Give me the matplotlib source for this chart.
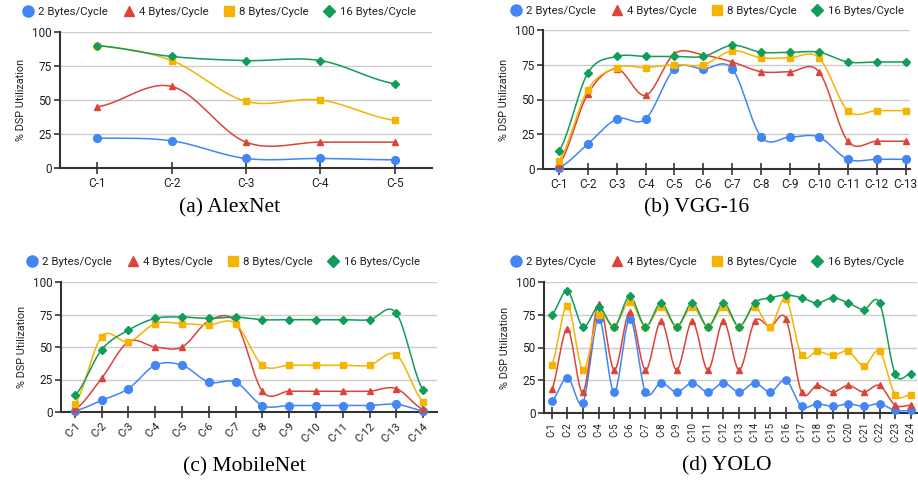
import numpy as np
import matplotlib
matplotlib.use("Agg")
import matplotlib.pyplot as plt
from matplotlib.lines import Line2D

plt.rcParams['font.family'] = ['Roboto', 'DejaVu Sans']

series_names = ["2 Bytes/Cycle", "4 Bytes/Cycle", "8 Bytes/Cycle", "16 Bytes/Cycle"]
colors = ["#4285F4", "#DB4437", "#F4B400", "#0F9D58"]
markers = ["o", "^", "s", "D"]
msizes = [5.6, 5.0, 4.8, 4.3]
leg_sizes = [8, 7, 6.5, 6]

alex_labels = [f"C-{i}" for i in range(1, 6)]
alex_2 = [22, 20, 7, 7, 6]
alex_4 = [45, 60, 19, 19, 19]
alex_8 = [90, 79, 49, 50, 35]
alex_16 = [90, 82, 79, 79, 62]

vgg_labels = [f"C-{i}" for i in range(1, 14)]
vgg_2 = [1, 18, 36, 36, 72, 72, 72, 23, 23, 23, 7, 7, 7]
vgg_4 = [3, 54, 72, 53, 83, 82, 77, 70, 70, 70, 20, 20, 20]
vgg_8 = [6, 57, 73, 73, 75, 75, 85, 80, 80, 80, 42, 42, 42]
vgg_16 = [13, 69, 81, 81, 81, 81, 89, 84, 84, 84, 77, 77, 77]

mob_labels = [f"C-{i}" for i in range(1, 15)]
mob_2 = [1, 9, 18, 36, 36, 23, 23, 5, 5, 5, 5, 5, 6, 1]
mob_4 = [2, 26, 54, 50, 50, 70, 69, 16, 16, 16, 16, 16, 18, 2]
mob_8 = [6, 58, 54, 68, 68, 67, 68, 36, 36, 36, 36, 36, 44, 8]
mob_16 = [13, 48, 63, 72, 73, 72, 73, 71, 71, 71, 71, 71, 76, 17]

yolo_labels = [f"C-{i}" for i in range(1, 25)]
yolo_2 = [9, 27, 8, 72, 16, 72, 16, 23, 16, 23, 16, 23, 16, 23, 16, 25, 5, 7, 5, 7, 5, 7, 2, 2]
yolo_4 = [18, 64, 16, 83, 33, 77, 33, 70, 33, 70, 33, 70, 33, 70, 66, 72, 16, 21, 16, 21, 16, 21, 6, 6]
yolo_8 = [37, 82, 33, 75, 66, 85, 66, 81, 66, 81, 66, 81, 66, 81, 66, 87, 44, 47, 44, 47, 36, 47, 14, 14]
yolo_16 = [75, 93, 66, 81, 66, 89, 66, 84, 66, 84, 66, 84, 66, 84, 88, 90, 88, 84, 88, 84, 79, 84, 30, 30]

W, H = 918, 483
fig = plt.figure(figsize=(W / 100, H / 100), dpi=100)


def smooth(y, n=20):
    y = np.asarray(y, float)
    k = len(y)
    m = np.zeros(k)
    for i in range(k):
        if i == 0:
            m[i] = (y[1] - y[0]) * 0.5
        elif i == k - 1:
            m[i] = (y[-1] - y[-2]) * 0.5
        else:
            m[i] = (y[i + 1] - y[i - 1]) / 2.0
    xs, ys = [], []
    for i in range(k - 1):
        t = np.linspace(0, 1, n, endpoint=(i == k - 2))
        h00 = 2 * t**3 - 3 * t**2 + 1
        h10 = t**3 - 2 * t**2 + t
        h01 = -2 * t**3 + 3 * t**2
        h11 = t**3 - t**2
        xs.append(i + t)
        ys.append(h00 * y[i] + h10 * m[i] + h01 * y[i + 1] + h11 * m[i + 1])
    return np.concatenate(xs), np.concatenate(ys)


def panel(box, labels, data, xlim, rot, xfs, title, tpos, legpos, msc=1.0):
    l, r, t, b = box
    ax = fig.add_axes([l / W, 1 - b / H, (r - l) / W, (b - t) / H])
    x = np.arange(len(labels))
    for vals, c, mk, ms in zip(data, colors, markers, msizes):
        xs, ys = smooth(vals)
        ax.plot(xs, ys, color=c, lw=1.1, clip_on=False, zorder=3)
        ax.plot(x, vals, ls="none", marker=mk, color=c, ms=ms * msc,
                mec=c, clip_on=False, zorder=4)
    ax.set_xlim(*xlim)
    ax.set_ylim(0, 100)
    ax.set_yticks([0, 25, 50, 75, 100])
    ax.set_xticks(x)
    if rot == 45:
        ax.set_xticklabels(labels, rotation=45, ha="right", rotation_mode="anchor")
    elif rot == 90:
        ax.set_xticklabels(labels, rotation=90)
    else:
        ax.set_xticklabels(labels)
    ax.grid(axis="y", color="#cccccc", lw=1)
    ax.set_axisbelow(True)
    for s in ["top", "right"]:
        ax.spines[s].set_visible(False)
    for s in ["left", "bottom"]:
        ax.spines[s].set_color("#333333")
        ax.spines[s].set_linewidth(1.5)
    ax.tick_params(axis="x", direction="inout", length=9, width=1.3, color="#444444",
                   labelsize=xfs, labelcolor="#222222", pad=2)
    ax.tick_params(axis="y", length=4, width=1.3, color="#444444",
                   labelsize=8.5, labelcolor="#222222", pad=2)
    ax.set_ylabel("% DSP Utilization", fontsize=7.8, color="#222222", labelpad=4)
    handles = [Line2D([], [], ls="none", marker=mk, color=c, ms=ms)
               for c, mk, ms in zip(colors, markers, leg_sizes)]
    fig.legend(handles, series_names, ncol=4, loc="center",
               bbox_to_anchor=(legpos[0] / W, 1 - legpos[1] / H),
               frameon=False, fontsize=8.2, handlelength=1.0, handletextpad=0.4,
               columnspacing=1.3, labelcolor="#222222")
    fig.text(tpos[0] / W, 1 - tpos[1] / H, title, ha="center", va="center",
             fontsize=15.5, family=["Liberation Serif", "DejaVu Serif"])
    return ax


panel((60, 432, 32, 168), alex_labels, [alex_2, alex_4, alex_8, alex_16],
      (-0.5, 4.5), 0, 8.5, "(a) AlexNet", (230, 208), (219, 12))
panel((543, 910, 30, 169), vgg_labels, [vgg_2, vgg_4, vgg_8, vgg_16],
      (-0.55, 12.15), 0, 8.5, "(b) VGG-16", (697, 208), (707, 11))
panel((61, 437, 282, 412), mob_labels, [mob_2, mob_4, mob_8, mob_16],
      (-0.52, 13.52), 45, 8, "(c) MobileNet", (244, 467), (223, 262))
panel((544, 917, 282, 413), yolo_labels, [yolo_2, yolo_4, yolo_8, yolo_16],
      (-0.5, 23.4), 90, 7, "(d) YOLO", (727, 466), (707, 262), msc=0.95)

fig.savefig("out.png", dpi=100)
